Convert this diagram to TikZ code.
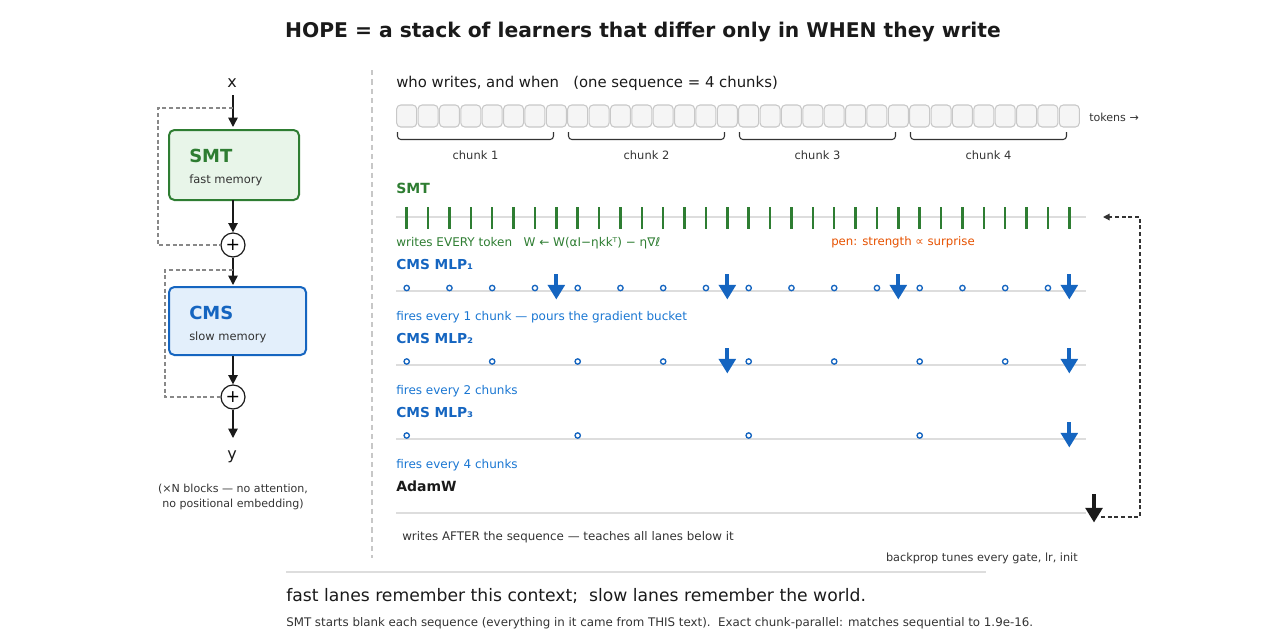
\documentclass[tikz,border=0pt]{standalone}
\usepackage{fontspec}
\setmainfont{DejaVu Sans}
\usetikzlibrary{arrows.meta}
\definecolor{smtgreen}{HTML}{2E7D32}
\definecolor{cmsblue}{HTML}{1565C0}
\definecolor{txtblue}{HTML}{1976D2}
\definecolor{penorange}{HTML}{E65100}
\definecolor{ink}{HTML}{1A1A1A}
\definecolor{txtgray}{HTML}{333333}
\definecolor{lanegray}{HTML}{DDDDDD}
\definecolor{tokfill}{HTML}{F5F5F5}
\definecolor{tokdraw}{HTML}{C8C8C8}
\definecolor{smtfill}{HTML}{E8F5E9}
\definecolor{cmsfill}{HTML}{E3EFFB}
\definecolor{dashgray}{HTML}{888888}
\newcommand{\fpx}[1]{\fontsize{#1}{#1}\selectfont}
\begin{document}
\begin{tikzpicture}[x=0.75pt,y=-0.75pt,
  lbl/.style={anchor=base west,inner sep=0pt},
  ctr/.style={anchor=base,inner sep=0pt},
  tok/.style={draw=tokdraw,fill=tokfill,line width=0.8pt,rounded corners=3pt,minimum width=15pt,minimum height=16.5pt,inner sep=0pt},
  bracebar/.style={draw=txtgray,line width=0.8pt,rounded corners=2.5pt},
  lane/.style={draw=lanegray,line width=1pt},
  smttick/.style={draw=smtgreen,line width=1.9pt},
  cmsdot/.style={circle,draw=cmsblue,fill=white,line width=1pt,minimum size=4pt,inner sep=0pt},
  fire/.style={draw=cmsblue,line width=3pt,-{Triangle[length=11pt,width=12.5pt]}},
  adamfire/.style={draw=ink,line width=3pt,-{Triangle[length=11pt,width=12.5pt]}},
  flow/.style={draw=ink,line width=1.1pt,-{Triangle[length=7pt,width=7pt]}},
  resid/.style={draw=dashgray,line width=0.9pt,dash pattern=on 3pt off 2pt},
  fb/.style={draw=txtgray,line width=0.9pt,dash pattern=on 3pt off 2pt,-{Triangle[length=5pt,width=5pt]}},
  memsmt/.style={draw=smtgreen,fill=smtfill,line width=1.5pt,rounded corners=4pt,minimum width=97.5pt,minimum height=52.5pt},
  memcms/.style={draw=cmsblue,fill=cmsfill,line width=1.5pt,rounded corners=4pt,minimum width=102.75pt,minimum height=51pt},
  plusnode/.style={circle,draw=ink,fill=white,line width=0.9pt,minimum size=18pt,inner sep=0pt,font=\fpx{13}}]
\useasboundingbox (0,0) rectangle (1280,640);

% title
\node[ctr,text=ink,font=\bfseries\fpx{15.2}] (title) at (643,37) {HOPE = a stack of learners that differ only in WHEN they write};

% divider
\draw[draw=lanegray!90!black,line width=0.8pt,dash pattern=on 4pt off 3pt] (372,70) -- (372,558);

% ---------------- left block diagram ----------------
\node[ctr,text=ink,font=\fpx{12}] (xin) at (232,87) {x};
\node[memsmt] (smtb) at (234,165) {};
\node[lbl,text=smtgreen,font=\bfseries\fpx{13.5}] (smtname) at (189,162) {SMT};
\node[lbl,text=txtgray,font=\fpx{8.6}] (smtsub) at (189,183) {fast memory};
\node[plusnode] (p1) at (233,245) {+};
\node[memcms] (cmsb) at (237.5,321) {};
\node[lbl,text=cmsblue,font=\bfseries\fpx{13.5}] (cmsname) at (189,319) {CMS};
\node[lbl,text=txtgray,font=\fpx{8.6}] (cmssub) at (189,340) {slow memory};
\node[plusnode] (p2) at (233,397) {+};
\node[ctr,text=ink,font=\fpx{12}] (yout) at (232,459) {y};
\node[ctr,text=txtgray,font=\fpx{8.3}] (cap1) at (233,492) {(×N blocks — no attention,};
\node[ctr,text=txtgray,font=\fpx{8.3}] (cap2) at (233,507) {no positional embedding)};

\coordinate (r1) at (233,108);
\coordinate (r2) at (233,270);
\draw[flow] (233,95) -- (233,127);
\draw[flow] (233,200) -- (p1.north);
\draw[flow] (p1.south) -- (233,285);
\draw[flow] (233,356) -- (p2.north);
\draw[flow] (p2.south) -- (233,438);
\draw[resid] (r1) -- (158,108) -- (158,245) -- (p1.west);
\draw[resid] (r2) -- (165,270) -- (165,397) -- (p2.west);

% ---------------- right: timeline ----------------
\node[lbl,text=ink,font=\fpx{11.15}] (hdr) at (396,87) {who writes, and when\ \ \ (one sequence = 4 chunks)};

\foreach \i in {0,...,31} {
  \node[tok] (t\i) at ({396+21.375*(\i+0.5)},116) {};
}
\node[lbl,text=txtgray,font=\fpx{8.3}] (tokl) at (1089,121) {tokens →};

\foreach \k in {1,...,4} {
  \pgfmathsetmacro{\s}{396+171*(\k-1)+1.5}
  \pgfmathsetmacro{\e}{\s+156}
  \pgfmathsetmacro{\m}{\s+78}
  \draw[bracebar] (\s,132) -- (\s,139.5) -- (\e,139.5) -- (\e,132);
  \node[ctr,text=txtgray,font=\fpx{8.6}] (ch\k) at (\m,159) {chunk \k};
}

% SMT lane
\node[lbl,text=smtgreen,font=\bfseries\fpx{10.5}] (smtlane) at (396,193) {SMT};
\draw[lane] (396,217) -- (1086,217);
\foreach \i in {0,...,31} {
  \draw[smttick] ({396+21.375*(\i+0.5)},207) -- ({396+21.375*(\i+0.5)},229);
}
\coordinate (smtend) at (1103,217);
\node[lbl,text=smtgreen,font=\fpx{9}] (smtnote) at (396,246) {writes EVERY token\ \ \ W ← W(αI−ηkkᵀ) − η∇ℓ};
\node[lbl,text=penorange,font=\fpx{8.8}] (pen) at (831,245.5) {pen: strength ∝ surprise};

% CMS MLP1
\node[lbl,text=cmsblue,font=\bfseries\fpx{10.3}] (m1) at (396,269) {CMS MLP₁};
\draw[lane] (396,291) -- (1086,291);
\foreach \i in {0,2,...,30} {
  \node[cmsdot] at ({396+21.375*(\i+0.5)},288) {};
}
\foreach \i in {7,15,23,31} {
  \draw[fire] ({396+21.375*(\i+0.5)},274) -- ({396+21.375*(\i+0.5)},299.5);
}
\node[lbl,text=txtblue,font=\fpx{9}] (m1n) at (396,320) {fires every 1 chunk — pours the gradient bucket};

% CMS MLP2
\node[lbl,text=cmsblue,font=\bfseries\fpx{10.3}] (m2) at (396,343) {CMS MLP₂};
\draw[lane] (396,365) -- (1086,365);
\foreach \i in {0,4,...,28} {
  \node[cmsdot] at ({396+21.375*(\i+0.5)},361.5) {};
}
\foreach \i in {15,31} {
  \draw[fire] ({396+21.375*(\i+0.5)},348) -- ({396+21.375*(\i+0.5)},373.5);
}
\node[lbl,text=txtblue,font=\fpx{9}] (m2n) at (396,394) {fires every 2 chunks};

% CMS MLP3
\node[lbl,text=cmsblue,font=\bfseries\fpx{10.3}] (m3) at (396,417) {CMS MLP₃};
\draw[lane] (396,439) -- (1086,439);
\foreach \i in {0,8,...,24} {
  \node[cmsdot] at ({396+21.375*(\i+0.5)},435.5) {};
}
\draw[fire] ({396+21.375*31.5},422) -- ({396+21.375*31.5},447.5);
\node[lbl,text=txtblue,font=\fpx{9}] (m3n) at (396,468) {fires every 4 chunks};

% AdamW
\node[lbl,text=ink,font=\bfseries\fpx{10.5}] (adam) at (396,491) {AdamW};
\draw[lane] (396,513) -- (1086,513);
\draw[adamfire] (1094,494) -- (1094,522.5);
\coordinate (adamtip) at (1101,517);
\draw[fb] (adamtip) -- (1140,517) -- (1140,217) -- (smtend);
\node[lbl,text=txtgray,font=\fpx{8.9}] (adamn) at (402,540) {writes AFTER the sequence — teaches all lanes below it};
\node[anchor=base east,inner sep=0pt,text=txtgray,font=\fpx{8.45}] (bp) at (1078,561) {backprop tunes every gate, lr, init};

% bottom
\draw[draw=lanegray,line width=1.5pt] (286,572) -- (986,572);
\node[lbl,text=ink,font=\fpx{12.9}] (take) at (286,601) {fast lanes remember this context;\ \ slow lanes remember the world.};
\node[lbl,text=txtgray,font=\fpx{8.88}] (foot) at (286,626) {SMT starts blank each sequence (everything in it came from THIS text).\ \ Exact chunk-parallel: matches sequential to 1.9e-16.};
\end{tikzpicture}
\end{document}
